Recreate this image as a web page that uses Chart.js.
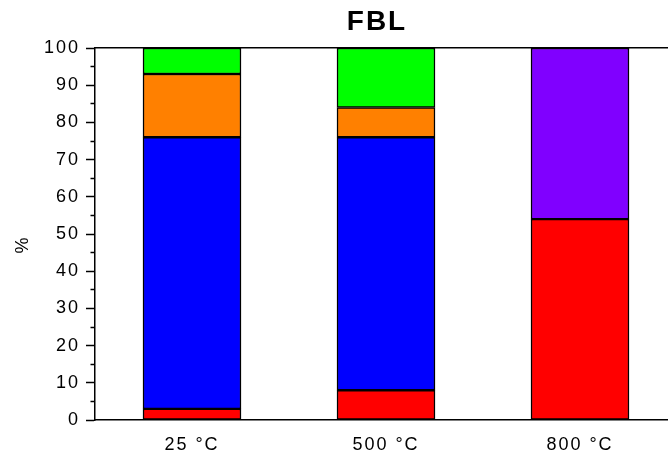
<!DOCTYPE html>
<html>
<head>
<meta charset="utf-8">
<script src="https://cdn.jsdelivr.net/npm/chart.js@4/dist/chart.umd.min.js"></script>
<style>
  html, body { margin: 0; padding: 0; background: #fff; overflow: hidden; }
  canvas { display: block; }
</style>
</head>
<body>
<canvas id="chart" width="680" height="458"></canvas>
<script>
// temperatures on the x axis
const categories = ['25 °C', '500 °C', '800 °C'];

// stacked shares in %, bottom to top
const redPart = [3, 8, 54];
const bluePart = [73, 68, null];
const orangePart = [17, 8, null];
const greenPart = [7, 16, null];
const purplePart = [null, null, 46];

const font = 'Liberation Sans, Arial, sans-serif';

function makeSet(data, color) {
  return {
    data,
    backgroundColor: color,
    borderColor: '#000',
    borderWidth: 1.5,
    borderSkipped: false,
    barThickness: 98
  };
}

// wider letters like the original plot
const spacing = {
  id: 'spacing',
  beforeDraw(chart) {
    chart.ctx.letterSpacing = '2px';
  },
  afterLayout(chart) {
    if (chart.titleBlock) {
      chart.titleBlock.left -= 9;
      chart.titleBlock.right -= 9;
    }
  }
};

const ctx = document.getElementById('chart').getContext('2d');
new Chart(ctx, {
  type: 'bar',
  data: {
    labels: categories,
    datasets: [
      makeSet(redPart, '#ff0000'),
      makeSet(bluePart, '#0000ff'),
      makeSet(orangePart, '#ff8000'),
      makeSet(greenPart, '#00ff00'),
      makeSet(purplePart, '#8000ff')
    ]
  },
  options: {
    responsive: false,
    animation: false,
    devicePixelRatio: 1,
    layout: { padding: { left: 0, right: 3, top: 0, bottom: 0 } },
    plugins: {
      legend: { display: false },
      tooltip: { enabled: false },
      title: {
        display: true,
        text: 'FBL',
        fullSize: false,
        color: '#000',
        font: { family: font, size: 28, weight: 'bold' },
        padding: { top: 5, bottom: 9.4 }
      }
    },
    scales: {
      x: {
        stacked: true,
        grid: { display: false },
        border: { display: true, color: '#000', width: 1.5 },
        ticks: {
          color: '#000',
          padding: 6,
          font: { family: font, size: 18 }
        },
        afterFit(scale) { scale.height = 38; }
      },
      xTop: {
        type: 'category',
        position: 'top',
        labels: categories,
        grid: { display: false },
        border: { display: true, color: '#000', width: 1.5 },
        ticks: { display: false },
        afterFit(scale) { scale.height = 0; }
      },
      y: {
        stacked: true,
        min: 0,
        max: 100,
        grid: {
          drawOnChartArea: false,
          drawTicks: true,
          tickLength: 9,
          tickColor: '#000',
          tickWidth: 1.5,
          tickBorderDash: (c) => (c.tick && c.tick.value % 10 !== 0) ? [0, 4.5, 6, 30] : []
        },
        border: { display: true, color: '#000', width: 1.5 },
        ticks: {
          stepSize: 5,
          autoSkip: false,
          color: '#000',
          padding: 6,
          font: { family: font, size: 18 },
          callback: (v) => (v % 10 === 0 ? String(v) : '')
        },
        title: {
          display: true,
          text: '%   ',
          color: '#000',
          font: { family: font, size: 18 },
          padding: { top: 12, bottom: 0 }
        },
        afterFit(scale) { scale.width = 95; }
      }
    }
  },
  plugins: [spacing]
});
</script>
</body>
</html>
